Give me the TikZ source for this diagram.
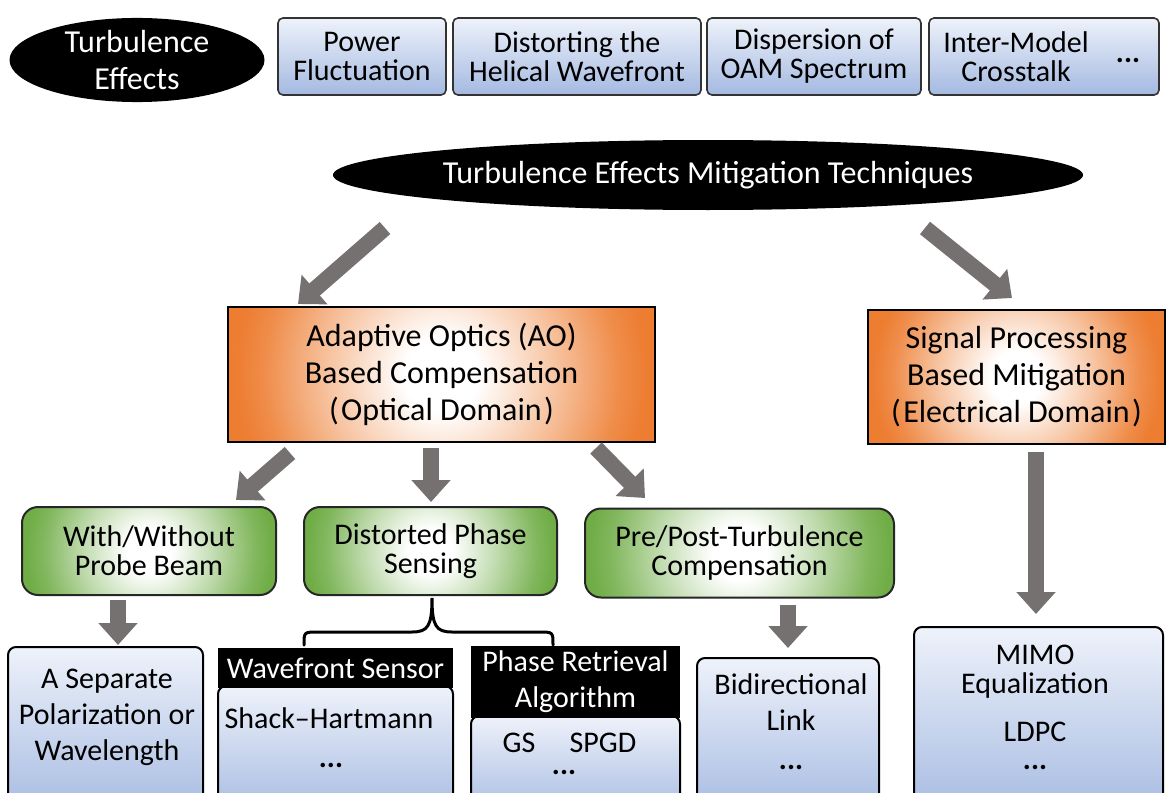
\documentclass[tikz,border=0pt]{standalone}
\usepackage{fontspec}
\setmainfont{Carlito}
\usetikzlibrary{shapes.geometric,arrows.meta}

\definecolor{arrowgray}{HTML}{767171}
\definecolor{orangec}{HTML}{ED7D31}
\definecolor{greenc}{HTML}{70AD47}
\definecolor{bluetop}{HTML}{EEF2FA}
\definecolor{bluebot}{HTML}{A4B9E1}
\definecolor{edgegray}{HTML}{333333}

% white centre fading to the accent colour at the rim
\pgfdeclareradialshading{orangeglow}{\pgfpointorigin}{color(0bp)=(white); color(4bp)=(white); color(12bp)=(orangec!45!white); color(19bp)=(orangec!88!white); color(22bp)=(orangec); color(50bp)=(orangec)}
\pgfdeclareradialshading{greenglow}{\pgfpointorigin}{color(0bp)=(white); color(4bp)=(white); color(12bp)=(greenc!45!white); color(19bp)=(greenc!88!white); color(22bp)=(greenc); color(50bp)=(greenc)}

\newcommand\fsbig{\fontsize{16pt}{18.5pt}\selectfont}
\newcommand\fstop{\fontsize{15pt}{14.5pt}\selectfont}
\newcommand\fsmid{\fontsize{15pt}{14.5pt}\selectfont}
\newcommand\fslow{\fontsize{15pt}{18pt}\selectfont}
\newcommand\inparen[1]{(\kern1.2pt#1\kern1.2pt)}

\tikzset{
  blackoval/.style={ellipse, fill=black, text=white, inner sep=0pt, align=center, font=\fsbig},
  topbox/.style={draw=edgegray, line width=0.8pt, rounded corners=2.5pt,
    top color=bluetop, bottom color=bluebot, minimum height=38.5pt,
    align=center, inner sep=0pt, font=\fstop},
  orangebox/.style={draw=black, line width=1pt, fill=orangec,
    path picture={\shade[shading=orangeglow] (path picture bounding box.center) circle[radius=#1];},
    align=center, inner sep=0pt, font=\fsbig},
  greenbox/.style={draw=black!85, line width=1pt, rounded corners=8pt, fill=greenc,
    path picture={\shade[shading=greenglow] (path picture bounding box.center) circle[radius=#1];},
    align=center, inner sep=0pt, font=\fsmid},
  bluebox/.style={draw=black, line width=1pt, rounded corners=4pt,
    top color=bluetop, bottom color=bluebot, inner sep=0pt},
  header/.style={fill=black, text=white, inner sep=0pt, align=center, font=\fslow},
  label/.style={inner sep=0pt, align=center, font=\fslow},
  dots/.style={inner sep=0pt, font=\fslow\bfseries},
  bigarrow/.style={draw=arrowgray, line width=8pt, -{Triangle[width=19pt,length=11pt]}},
  bracket/.style={draw=black, line width=1.5pt, line cap=round},
}

\begin{document}
\begin{tikzpicture}[x=0.5pt,y=-0.5pt]
\clip (0,0) rectangle (1166,792);
\fill[white] (0,0) rectangle (1166,792);

% --- turbulence effects row ---
\node[blackoval, minimum width=127.5pt, minimum height=42pt] (te) at (137,60) {Turbulence\\Effects};
\node[topbox, minimum width=84pt]  (pf) at (362,56.5) {Power\\Fluctuation};
\node[topbox, minimum width=124pt] (dh) at (577,56.5) {Distorting the\\Helical Wavefront};
\node[topbox, minimum width=107pt] (ds) at (814,56.5) {Dispersion of\\OAM Spectrum};
\node[topbox, minimum width=115pt] (im) at (1044,56.5) {};
\node[inner sep=0pt, align=center, font=\fstop] (imt) at (1016,57) {Inter-Model\\Crosstalk};
\node[dots] (imd) at (1128,60) {...};

% --- mitigation techniques ---
\node[blackoval, minimum width=373.5pt, minimum height=35pt] (mit) at (708,175) {Turbulence Effects Mitigation Techniques};

\node[orangebox=117pt, minimum width=213.5pt, minimum height=67.5pt] (ao) at (441.5,374.5)
  {Adaptive Optics (AO)\\Based Compensation\\\inparen{Optical Domain}};
\node[orangebox=82pt, minimum width=148.5pt, minimum height=67pt] (sp) at (1016.5,377)
  {Signal Processing\\Based Mitigation\\\inparen{Electrical Domain}};

\coordinate (m1) at (385,228);  \coordinate (ao1) at (298,304);
\coordinate (m2) at (925,228);  \coordinate (sp1) at (1012,298);
\draw[bigarrow] (m1) -- (ao1);
\draw[bigarrow] (m2) -- (sp1);

% --- AO branches ---
\node[greenbox=70pt, minimum width=127pt, minimum height=44pt] (wp) at (149,551) {With/Without\\Probe Beam};
\node[greenbox=70pt, minimum width=126.5pt, minimum height=44pt] (dp) at (430.5,551) {Distorted Phase\\Sensing};
\node[greenbox=85pt, minimum width=154.5pt, minimum height=44.5pt] (pp) at (739.5,553) {Pre/Post-Turbulence\\Compensation};

\coordinate (ao2) at (290,453); \coordinate (wp1) at (236,500);
\coordinate (ao3) at (431,448); \coordinate (dp1) at (431,502);
\coordinate (ao4) at (596,448); \coordinate (pp1) at (645,498);
\draw[bigarrow] (ao2) -- (wp1);
\draw[bigarrow] (ao3) -- (dp1);
\draw[bigarrow] (ao4) -- (pp1);

% --- bottom row ---
\node[bluebox, minimum width=97.5pt, minimum height=86.5pt] (sep) at (105.5,733.5) {};
\node[label] (sept) at (107,717) {A Separate\\Polarization or\\Wavelength};

\node[bluebox, minimum width=117.5pt, minimum height=67pt] (wfs) at (335.5,753) {};
\node[header, minimum width=117.5pt, minimum height=20pt] (wfsh) at (335.5,668) {Wavefront Sensor};
\node[label] (wfst) at (329,718) {Shack--Hartmann};
\node[dots] (wfsd) at (331,765) {...};

\node[bluebox, minimum width=104.5pt, minimum height=52pt] (pr) at (575.5,768) {};
\node[header, minimum width=104.5pt, minimum height=36pt] (prh) at (575.5,682) {Phase Retrieval\\Algorithm};
\node[label] (gs) at (519,743) {GS};
\node[label] (spgd) at (603,743) {SPGD};
\node[dots] (prd) at (564,772) {...};

\node[bluebox, minimum width=91pt, minimum height=81pt] (bd) at (788,739) {};
\node[label] (bdt) at (791,702) {Bidirectional\\Link};
\node[dots] (bdd) at (791,767) {...};

\node[bluebox, minimum width=124.5pt, minimum height=96.5pt] (mm) at (1038.5,723.5) {};
\node[inner sep=0pt, align=center, font=\fstop] (mmt) at (1035,672) {MIMO\\Equalization};
\node[label] (ldpc) at (1035,732) {LDPC};
\node[dots] (mmd) at (1035,767) {...};

\coordinate (wp2) at (118,600);  \coordinate (sep1) at (118,645);
\coordinate (pp2) at (788,605);  \coordinate (bd1) at (788,648);
\coordinate (sp2) at (1036,452); \coordinate (mm1) at (1036,614);
\draw[bigarrow] (wp2) -- (sep1);
\draw[bigarrow] (pp2) -- (bd1);
\draw[bigarrow] (sp2) -- (mm1);

% brace joining the phase-sensing box to its two methods
\draw[bracket] (304,645) .. controls (304,632) and (304,632) .. (318,632)
  -- (412,632) .. controls (428,632) and (432,626) .. (432,598)
  .. controls (432,626) and (436,632) .. (452,632)
  -- (539,632) .. controls (553,632) and (553,632) .. (553,645);
\end{tikzpicture}
\end{document}
